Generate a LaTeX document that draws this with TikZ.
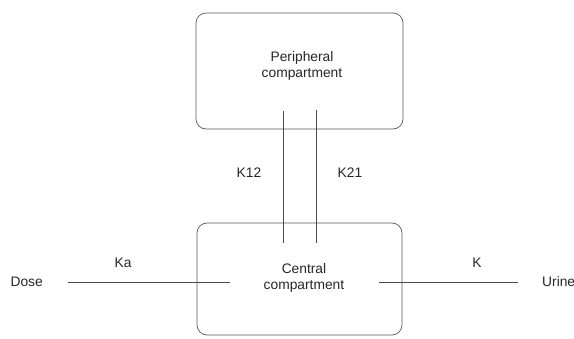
\documentclass[tikz,border=0pt]{standalone}
\usepackage{fontspec}
\setmainfont{Liberation Sans}
\begin{document}
\begin{tikzpicture}[x=1pt,y=-1pt,
  comp/.style={draw=black!65,line width=0.7pt,rounded corners=10pt},
  link/.style={draw=black!70,line width=0.8pt},
  lbl/.style={text=black!85,font=\fontsize{13.8}{16.5}\selectfont,inner sep=0pt,align=center}]
\useasboundingbox (0,0) rectangle (574,338);
% boxes
\draw[comp] (196,13) rectangle (403,129);
\draw[comp] (197,223) rectangle (402,335);
\node[lbl] (per) at (302,66) {Peripheral\\compartment};
\node[lbl] (cen) at (304,278) {Central\\compartment};
% vertical links
\coordinate (a1) at (283,111);
\coordinate (a2) at (283,243);
\coordinate (b1) at (316,110);
\coordinate (b2) at (316,243);
\draw[link] (a1) -- (a2);
\draw[link] (b1) -- (b2);
\node[lbl] (k12) at (249,173) {K12};
\node[lbl] (k21) at (350,173) {K21};
% horizontal links
\node[lbl,anchor=east] (dose) at (43,282) {Dose};
\coordinate (d2) at (230,282);
\draw[link] (68,282) -- (d2);
\node[lbl] (ka) at (123,263) {Ka};
\coordinate (u1) at (379,282);
\draw[link] (u1) -- (518,282);
\node[lbl] (k) at (477,263) {K};
\node[lbl,anchor=west] (urine) at (542,282) {Urine};
\end{tikzpicture}
\end{document}
